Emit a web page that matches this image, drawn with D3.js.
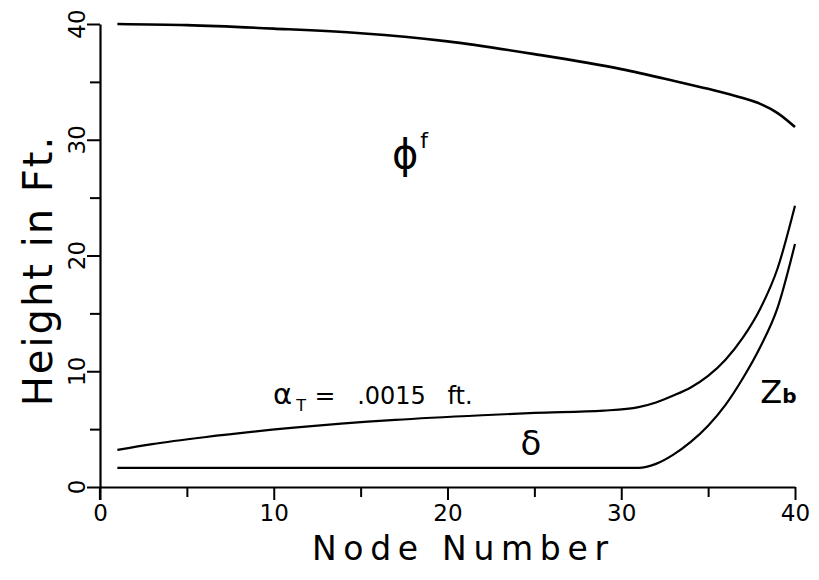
<!DOCTYPE html>
<html>
<head>
<meta charset="utf-8">
<script src="https://cdn.jsdelivr.net/npm/d3@7"></script>
<style>
  html, body { margin: 0; padding: 0; background: #fff; }
  svg { display: block; font-family: "DejaVu Sans", "Liberation Sans", sans-serif; }
</style>
</head>
<body>
<svg id="chart" width="819" height="580"></svg>
<script>
// node number ticks
const nodeMajorTicks = [0, 10, 20, 30, 40];
const nodeMinorTicks = [5, 15, 25, 35];
// height ticks (ft)
const heightMajorTicks = [0, 10, 20, 30, 40];
const heightMinorTicks = [5, 15, 25, 35];

// phi^f curve
const phiNodes = [1, 5, 10, 15, 20, 25, 30, 33, 35, 37, 38, 39, 40];
const phiValues = [40.0, 39.9, 39.6, 39.2, 38.5, 37.4, 36.1, 35.1, 34.4, 33.6, 33.1, 32.3, 31.1];

// alpha_T = .0015 ft curve (upper of the two lower curves)
const alphaNodes = [1, 3, 6, 11, 17, 22, 25, 29, 31, 32, 33, 34, 35, 36, 37, 38, 39, 40];
const alphaValues = [3.2, 3.7, 4.3, 5.1, 5.8, 6.2, 6.4, 6.6, 6.9, 7.3, 7.9, 8.6, 9.6, 11.0, 12.9, 15.4, 18.9, 24.3];

// Z_b curve (lowest)
const zbNodes = [1, 10, 20, 31, 32, 33, 34, 35, 36, 37, 38, 39, 40];
const zbValues = [1.65, 1.65, 1.65, 1.65, 2.0, 2.8, 3.9, 5.3, 7.1, 9.4, 12.1, 15.5, 21.0];

const svg = d3.select('#chart');

const x = d3.scaleLinear().domain([0, 40]).range([100, 795]);
const y = d3.scaleLinear().domain([0, 40]).range([487, 24]);

const ink = '#000';

// Axes
const xAxis = svg.append('g')
    .attr('transform', `translate(0,${y(0)})`)
    .call(d3.axisBottom(x).tickValues(nodeMajorTicks).tickSize(13).tickSizeOuter(0).tickPadding(5));
xAxis.select('.domain').attr('stroke', ink).attr('stroke-width', 2.2);
xAxis.selectAll('line').attr('stroke', ink).attr('stroke-width', 2);
xAxis.selectAll('text')
    .attr('fill', ink)
    .attr('font-size', '23px')
    .attr('font-family', '"DejaVu Sans", sans-serif');

svg.append('g')
    .attr('transform', `translate(0,${y(0)})`)
    .call(d3.axisBottom(x).tickValues(nodeMinorTicks).tickSize(10).tickFormat(''))
    .call(g => g.select('.domain').remove())
    .selectAll('line').attr('stroke', ink).attr('stroke-width', 2);

const yAxis = svg.append('g')
    .attr('transform', `translate(${x(0)},0)`)
    .call(d3.axisLeft(y).tickValues(heightMajorTicks).tickSize(13).tickSizeOuter(0).tickFormat(''));
yAxis.select('.domain').attr('stroke', ink).attr('stroke-width', 2.2);
yAxis.selectAll('line').attr('stroke', ink).attr('stroke-width', 2);

svg.append('g')
    .attr('transform', `translate(${x(0)},0)`)
    .call(d3.axisLeft(y).tickValues(heightMinorTicks).tickSize(10).tickFormat(''))
    .call(g => g.select('.domain').remove())
    .selectAll('line').attr('stroke', ink).attr('stroke-width', 2);

// rotated y tick labels
svg.append('g')
    .selectAll('g')
    .data(heightMajorTicks)
    .join('g')
    .attr('transform', d => `translate(${x(0) - 15},${y(d)})`)
    .append('text')
    .attr('transform', 'rotate(-90)')
    .attr('text-anchor', 'middle')
    .attr('font-size', '23px')
    .attr('fill', ink)
    .text(d => d);

// small extension of the y axis below zero
svg.append('line')
    .attr('x1', x(0)).attr('x2', x(0))
    .attr('y1', y(0)).attr('y2', y(0) + 13)
    .attr('stroke', ink).attr('stroke-width', 2.2);

// Curves
const line = d3.line()
    .x(d => x(d[0]))
    .y(d => y(d[1]))
    .curve(d3.curveMonotoneX);

const series = [
    { nodes: phiNodes, values: phiValues, w: 2.6 },
    { nodes: alphaNodes, values: alphaValues, w: 2.2 },
    { nodes: zbNodes, values: zbValues, w: 2.2 }
];

series.forEach(s => {
    svg.append('path')
        .datum(d3.zip(s.nodes, s.values))
        .attr('fill', 'none')
        .attr('stroke', ink)
        .attr('stroke-width', s.w)
        .attr('stroke-linejoin', 'round')
        .attr('d', line);
});

// Annotations
const phiLabel = svg.append('text')
    .attr('x', x(16.8)).attr('y', y(27.6))
    .attr('font-size', '40px').attr('fill', ink);
phiLabel.append('tspan').text('\u03D5');
phiLabel.append('tspan').attr('dx', 2).attr('dy', -20).attr('font-size', '22px').text('f');

const alphaY = y(7.2);
const alphaLabel = svg.append('g').attr('fill', ink);
alphaLabel.append('text')
    .attr('x', x(9.95)).attr('y', alphaY)
    .attr('font-size', '29px')
    .text('\u03B1');
alphaLabel.append('text')
    .attr('x', x(11.3)).attr('y', alphaY + 7)
    .attr('font-size', '16px')
    .text('T');
alphaLabel.append('text')
    .attr('x', x(12.35)).attr('y', alphaY)
    .attr('font-size', '25px')
    .text('=');
alphaLabel.append('text')
    .attr('x', x(14.8)).attr('y', alphaY)
    .attr('font-size', '24px')
    .text('.0015');
alphaLabel.append('text')
    .attr('x', x(20.0)).attr('y', alphaY)
    .attr('font-size', '24px')
    .text('ft.');

svg.append('text')
    .attr('x', x(24.2)).attr('y', y(2.8))
    .attr('font-size', '34px').attr('fill', ink)
    .text('\u03B4');

const zbLabel = svg.append('text')
    .attr('x', x(38.0)).attr('y', y(7.25))
    .attr('font-size', '32px').attr('fill', ink);
zbLabel.append('tspan').text('Z');
zbLabel.append('tspan').attr('font-size', '20px').attr('font-weight', '600').text('b');

// Axis titles
svg.append('text')
    .attr('x', 312).attr('y', 560)
    .attr('textLength', 296).attr('lengthAdjust', 'spacing')
    .attr('font-size', '33px').attr('fill', ink)
    .text('Node Number');

svg.append('text')
    .attr('transform', `translate(52,${(y(0) + y(40)) / 2 + 15}) rotate(-90)`)
    .attr('text-anchor', 'middle')
    .attr('font-size', '40px').attr('fill', ink)
    .attr('letter-spacing', '2px')
    .text('Height  in  Ft.');
</script>
</body>
</html>
